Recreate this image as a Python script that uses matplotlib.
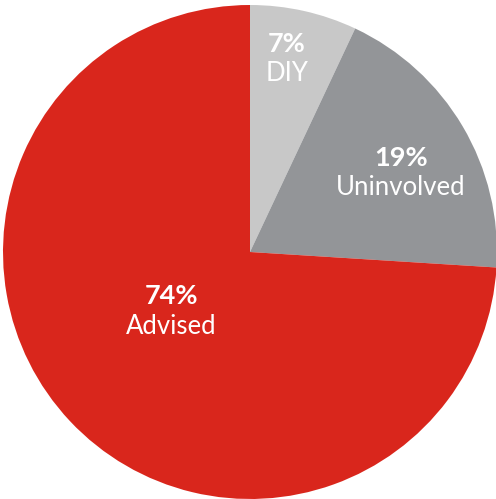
import matplotlib
matplotlib.use("Agg")
import matplotlib.pyplot as plt

labels = ["DIY", "Uninvolved", "Advised"]
values = [7, 19, 74]
colors = ["#c8c8c8", "#939598", "#d9261c"]

W, H = 496, 499
fig = plt.figure(figsize=(W / 100, H / 100), dpi=100)
ax = fig.add_axes([0, 0, 1, 1])

cx, cy, r = 250, H - 252, 247
ax.pie(values, colors=colors, startangle=90, counterclock=False,
       center=(cx, cy), radius=r, frame=True,
       wedgeprops=dict(linewidth=0))
ax.set_xlim(0, W)
ax.set_ylim(0, H)
ax.axis("off")

label_pos = [(287, 44, 73), (401, 158, 187), (171, 296, 326)]
for lab, v, (x, y1, y2) in zip(labels, values, label_pos):
    ax.text(x, H - y1, f"{v}%", color="white", fontsize=19.5, fontweight="bold",
            family="Lato", ha="center", va="center")
    ax.text(x, H - y2, lab, color="white", fontsize=18.5,
            family="Lato", ha="center", va="center")

fig.savefig("out.png", dpi=100)
